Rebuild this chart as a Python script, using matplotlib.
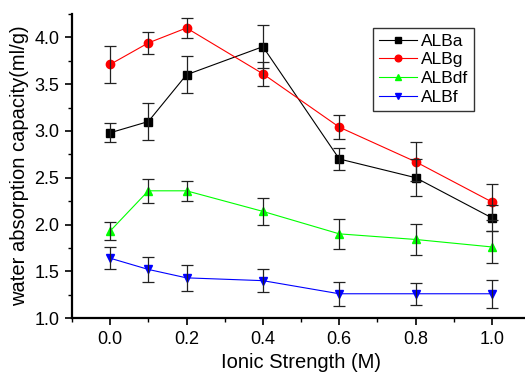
import matplotlib.pyplot as plt
from matplotlib.ticker import MultipleLocator

# ionic strength (M)
strength = [0.0, 0.1, 0.2, 0.4, 0.6, 0.8, 1.0]

alba = [2.98, 3.10, 3.60, 3.90, 2.70, 2.50, 2.07]
alba_err = [0.10, 0.20, 0.20, 0.23, 0.12, 0.20, 0.14]
albg = [3.71, 3.94, 4.10, 3.61, 3.04, 2.67, 2.24]
albg_err = [0.20, 0.12, 0.11, 0.13, 0.13, 0.21, 0.19]
albdf = [1.93, 2.36, 2.36, 2.14, 1.90, 1.84, 1.76]
albdf_err = [0.10, 0.13, 0.11, 0.14, 0.16, 0.17, 0.17]
albf = [1.64, 1.52, 1.43, 1.40, 1.26, 1.26, 1.26]
albf_err = [0.12, 0.13, 0.14, 0.12, 0.13, 0.12, 0.15]

series = [
    ("ALBa", alba, alba_err, "black", "s"),
    ("ALBg", albg, albg_err, "#ff0000", "o"),
    ("ALBdf", albdf, albdf_err, "#00ff00", "^"),
    ("ALBf", albf, albf_err, "#0000ff", "v"),
]

plt.rcParams["font.family"] = ["Liberation Sans", "DejaVu Sans"]

fig = plt.figure(figsize=(5.25, 3.76), dpi=100)
ax = fig.add_axes([0.137, 0.154, 0.873, 0.809])

for name, vals, errs, color, marker in series:
    ax.plot(strength, vals, color=color, marker=marker, markersize=6,
            linewidth=0.8, label=name, zorder=2)
    ax.errorbar(strength, vals, yerr=errs, fmt="none", ecolor="#222222",
                elinewidth=0.9, capsize=4, capthick=0.9, zorder=3)

ax.set_xlim(-0.1, 1.1)
ax.set_ylim(1.0, 4.25)
ax.xaxis.set_major_locator(MultipleLocator(0.2))
ax.xaxis.set_minor_locator(MultipleLocator(0.1))
ax.yaxis.set_major_locator(MultipleLocator(0.5))
ax.yaxis.set_minor_locator(MultipleLocator(0.25))
ax.set_xticks([0.0, 0.2, 0.4, 0.6, 0.8, 1.0])

for side in ["top", "right"]:
    ax.spines[side].set_visible(False)
for side in ["left", "bottom"]:
    ax.spines[side].set_linewidth(1.6)

ax.tick_params(which="major", direction="out", length=5, width=1.2,
               labelsize=13, pad=4)
ax.tick_params(which="minor", direction="out", length=3, width=1.0)

ax.set_xlabel("Ionic Strength (M)", fontsize=14.5, labelpad=4)
ax.set_ylabel("water absorption capacity(ml/g)", fontsize=14.5, labelpad=4)

leg = ax.legend(loc="upper left", bbox_to_anchor=(0.657, 0.955), fontsize=12.5,
                frameon=True, fancybox=False, edgecolor="black",
                handlelength=2.2, handletextpad=0.2, borderpad=0.35,
                labelspacing=0.2, borderaxespad=0, markerscale=0.8)
leg.get_frame().set_linewidth(1.0)

fig.savefig("out.png", dpi=100)
